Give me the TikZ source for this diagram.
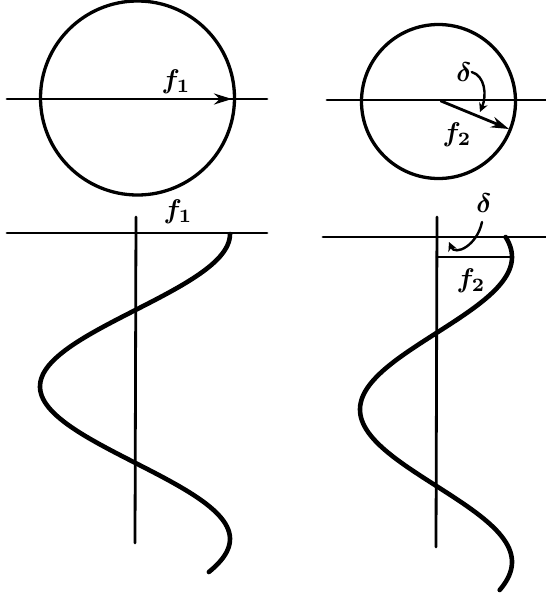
\documentclass[tikz,border=0pt]{standalone}
\usepackage{graphicx}
\usetikzlibrary{arrows.meta}
\newcommand{\biglbl}[1]{\scalebox{2.7}{\boldmath$#1$}}
\begin{document}
\begin{tikzpicture}[x=1pt,y=-1pt,line cap=round,
  axis/.style={line width=2.8pt},
  ring/.style={line width=3.3pt},
  wave/.style={line width=4.6pt},
  lbl/.style={inner sep=0pt},
  bigtip/.style={line width=2.8pt,-{Stealth[length=18pt,width=11pt]}},
  smalltip/.style={line width=2.4pt,-{Stealth[length=9pt,width=9pt]}}]
\useasboundingbox (0,0) rectangle (546,598);
% ---------- top left: circle with f1 ----------
\coordinate (c1) at (137.5,98);
\draw[ring] (c1) circle[radius=97pt];
\coordinate (hl1) at (7,99);
\coordinate (hr1) at (267,99);
\draw[axis] (hl1) -- (hr1);
\coordinate (a1s) at (140,99);
\coordinate (a1e) at (232,99);
\draw[bigtip] (a1s) -- (a1e);
\node[lbl] (f1a) at (176,82) {\biglbl{f_1}};
% ---------- top right: circle with f2 and delta ----------
\coordinate (c2) at (438.5,101.5);
\draw[ring] (c2) circle[radius=77pt];
\coordinate (hl2) at (327,100);
\coordinate (hr2) at (546,100);
\draw[axis] (hl2) -- (hr2);
\coordinate (a2s) at (441,101);
\coordinate (a2e) at (509,129);
\draw[bigtip] (a2s) -- (a2e);
\node[lbl] (d1) at (464,72) {\biglbl{\delta}};
\coordinate (d1t) at (480,112);
\draw[smalltip] (d1.east) .. controls (485,76) and (487,95) .. (d1t);
\node[lbl] (f2a) at (457,135) {\biglbl{f_2}};
% ---------- bottom left: wave f1 ----------
\coordinate (hl3) at (7,233);
\coordinate (hr3) at (267,233);
\draw[axis] (hl3) -- (hr3);
\coordinate (vt3) at (136,217);
\coordinate (vb3) at (135,543);
\draw[axis] (vt3) -- (vb3);
\node[lbl] (f1b) at (178,212) {\biglbl{f_1}};
\draw[wave] plot[domain=234:572,samples=120] ({135+95*cos((\x-234)/305*360)},\x);
% ---------- bottom right: wave f2 with delta ----------
\coordinate (hl4) at (323,237);
\coordinate (hr4) at (546,237);
\draw[axis] (hl4) -- (hr4);
\coordinate (vt4) at (437,217);
\coordinate (vb4) at (436,547);
\draw[axis] (vt4) -- (vb4);
\coordinate (f2l) at (437,257);
\coordinate (f2r) at (512,257);
\draw[axis] (f2l) -- (f2r);
\draw[wave] plot[domain=237:590,samples=120] ({436+76*cos((\x-257)/305*360)},\x);
\node[lbl] (d2) at (484,203) {\biglbl{\delta}};
\coordinate (d2t) at (449,242);
\draw[smalltip] (482,222) .. controls (477,246) and (455,256) .. (d2t);
\node[lbl] (f2b) at (471,281) {\biglbl{f_2}};
\end{tikzpicture}
\end{document}
